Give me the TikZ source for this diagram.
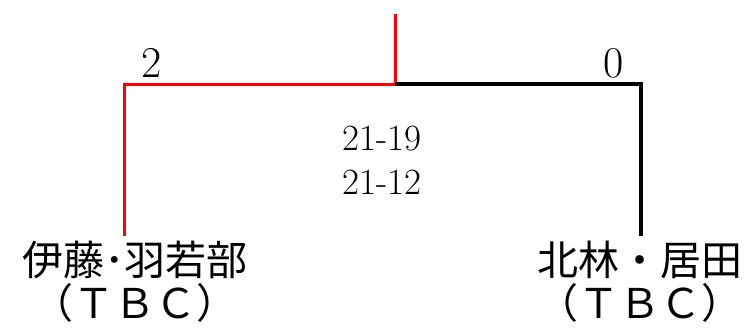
\documentclass[tikz,border=0pt]{standalone}
\usepackage{fontspec}
\newfontfamily\cjk{Noto Sans CJK JP}
\begin{document}
\begin{tikzpicture}[x=1pt,y=-1pt,
  win/.style={draw=red,line width=3pt},
  lose/.style={draw=black,line width=3.2pt},
  score/.style={font=\fontsize{44}{44}\selectfont,inner sep=0pt},
  games/.style={font=\fontsize{37}{44}\selectfont,align=center,inner sep=0pt},
  player/.style={font=\cjk\fontsize{41}{43}\selectfont,align=center,inner sep=0pt,anchor=north}]
\useasboundingbox (0,0) rectangle (754,327);
\coordinate (top) at (395,14);
\coordinate (mid) at (395,84);
\coordinate (lc) at (124,84);
\coordinate (rc) at (641,84);
\coordinate (lb) at (124,236);
\coordinate (rb) at (641,236);
\draw[win] (top) -- (mid) -- (lc) -- (lb);
\draw[lose] (mid) -- (rc) -- (rb);
\node[score,anchor=base] (s1) at (152,77) {2};
\node[score,anchor=base] (s2) at (614,77) {0};
\node[games] (g) at (382,160) {21-19\\21-12};
\node[player] (p1) at (135,241) {伊藤･羽若部\\（ＴＢＣ）};
\node[player] (p2) at (640,241) {北林・居田\\（ＴＢＣ）};
\end{tikzpicture}
\end{document}
